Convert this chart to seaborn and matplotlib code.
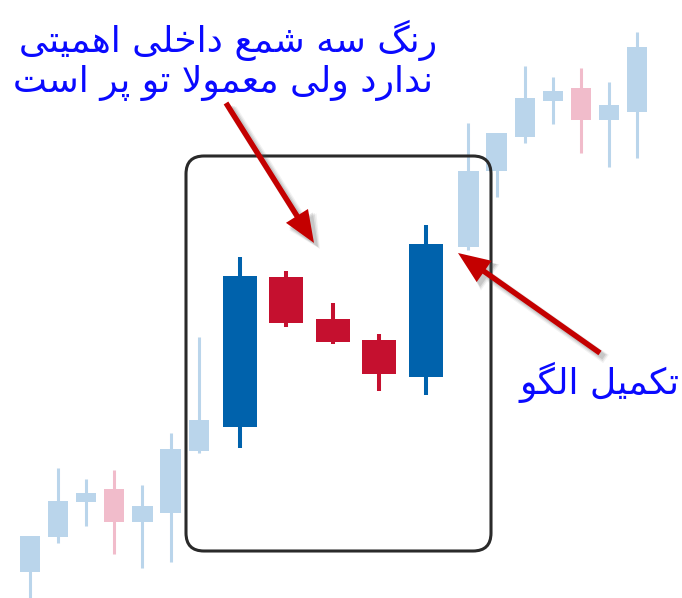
import matplotlib
matplotlib.use('Agg')
import matplotlib.pyplot as plt
from matplotlib.patches import FancyBboxPatch, FancyArrow
import seaborn as sns
import pandas as pd

# faded background candles (before and after the pattern)
bg_t = [0, 1, 2, 3, 4, 5, 6, 15.6, 16.6, 17.6, 18.6, 19.6, 20.6, 21.6]
bg_open = [6.5, 15.25, 24, 27.25, 19, 21.25, 36.75, 87.75, 106.75, 115.25, 124.25, 127.5, 119.5, 121.5]
bg_close = [15.5, 24.25, 26.25, 19, 23, 37.25, 44.5, 106.75, 116.25, 125, 126.75, 119.5, 123.25, 137.75]
bg_high = [15.5, 32.5, 29.75, 32, 28.25, 41.25, 65.25, 118.75, 116.25, 133, 130.25, 132.5, 129, 141.5]
bg_low = [-2, 13.75, 18, 11, 7.5, 9, 36.25, 87, 100.25, 113.75, 118.5, 111.25, 107.75, 110]

# the five candles of the pattern
pt_t = [7.47, 9.12, 10.77, 12.43, 14.08]
pt_open = [42.75, 80.25, 69.75, 64.5, 55.25]
pt_close = [80.5, 68.75, 64, 56, 88.5]
pt_high = [85.25, 81.75, 73.75, 66, 93.25]
pt_low = [37.5, 67.75, 63.5, 51.75, 50.75]

title_lines = ['رنگ سه شمع داخلی اهمیتی', 'ندارد ولی معمولا تو پر است']
end_label = 'تکمیل الگو'

# Arabic / Persian letters -> (isolated, final, initial, medial)
FORMS = {
    'ا': ('\uFE8D', '\uFE8E', None, None),
    'د': ('\uFEA9', '\uFEAA', None, None),
    'ر': ('\uFEAD', '\uFEAE', None, None),
    'و': ('\uFEED', '\uFEEE', None, None),
    'ت': ('\uFE95', '\uFE96', '\uFE97', '\uFE98'),
    'خ': ('\uFEA5', '\uFEA6', '\uFEA7', '\uFEA8'),
    'س': ('\uFEB1', '\uFEB2', '\uFEB3', '\uFEB4'),
    'ش': ('\uFEB5', '\uFEB6', '\uFEB7', '\uFEB8'),
    'ع': ('\uFEC9', '\uFECA', '\uFECB', '\uFECC'),
    'ل': ('\uFEDD', '\uFEDE', '\uFEDF', '\uFEE0'),
    'م': ('\uFEE1', '\uFEE2', '\uFEE3', '\uFEE4'),
    'ن': ('\uFEE5', '\uFEE6', '\uFEE7', '\uFEE8'),
    'ه': ('\uFEE9', '\uFEEA', '\uFEEB', '\uFEEC'),
    'ی': ('\uFBFC', '\uFBFD', '\uFBFE', '\uFBFF'),
    'گ': ('\uFB92', '\uFB93', '\uFB94', '\uFB95'),
    'ک': ('\uFB8E', '\uFB8F', '\uFB90', '\uFB91'),
    'پ': ('\uFB56', '\uFB57', '\uFB58', '\uFB59'),
}


def dual(c):
    return c in FORMS and FORMS[c][2] is not None


def shape(text):
    # join letters by hand (matplotlib has no shaping) and reverse for RTL
    out = []
    i = 0
    while i < len(text):
        c = text[i]
        prev_join = i > 0 and dual(text[i - 1])
        if c == 'ل' and i + 1 < len(text) and text[i + 1] == 'ا':
            out.append('\uFEFC' if prev_join else '\uFEFB')
            i += 2
            continue
        if c not in FORMS:
            out.append(c)
            i += 1
            continue
        next_join = dual(c) and i + 1 < len(text) and text[i + 1] in FORMS
        iso, fin, ini, med = FORMS[c]
        if prev_join and next_join:
            out.append(med)
        elif prev_join:
            out.append(fin)
        elif next_join:
            out.append(ini)
        else:
            out.append(iso)
        i += 1
    return ''.join(out)[::-1]


def candles(ax, df, width, up_col, down_col, wick_lw):
    colors = [up_col if c >= o else down_col for o, c in zip(df['open'], df['close'])]
    ax.vlines(df['t'], df['low'], df['high'], colors=colors, linewidth=wick_lw, zorder=2)
    bottom = df[['open', 'close']].min(axis=1)
    height = (df['close'] - df['open']).abs()
    ax.bar(df['t'], height, width=width, bottom=bottom, color=colors, linewidth=0, zorder=3)


sns.set_theme(style='white')
plt.rcParams['font.family'] = ['DejaVu Sans']

bg = pd.DataFrame({'t': bg_t, 'open': bg_open, 'close': bg_close, 'high': bg_high, 'low': bg_low})
pt = pd.DataFrame({'t': pt_t, 'open': pt_open, 'close': pt_close, 'high': pt_high, 'low': pt_low})

fig = plt.figure(figsize=(6.82, 5.98), dpi=100)
ax = fig.add_axes([0, 0, 1, 1])
candles(ax, bg, 0.72, '#bad5eb', '#f1bccb', 2.2)
candles(ax, pt, 1.22, '#0062ac', '#c5102f', 2.9)
ax.set_xlim(-1.068, 23.2)
ax.set_ylim(0, 149.5)
ax.axis('off')

# overlay in pixel units for the frame, arrows and notes
ov = fig.add_axes([0, 0, 1, 1], facecolor='none')
ov.set_xlim(0, 682)
ov.set_ylim(598, 0)
ov.axis('off')

ov.add_patch(FancyBboxPatch((186, 156), 305, 395, boxstyle='round,pad=0,rounding_size=18',
                            fill=False, edgecolor='#2a2a2a', linewidth=2.2, zorder=1))

for (x0, y0, x1, y1) in [(226, 103, 314, 243), (600, 353, 458, 253)]:
    for k, a in enumerate([0.08, 0.12, 0.16]):
        off = 6 - k
        ov.add_patch(FancyArrow(x0 + off, y0 + off, x1 - x0, y1 - y0, width=6 + 2 * (2 - k),
                                head_width=28 + 2 * (2 - k), head_length=32, length_includes_head=True,
                                color='#555555', alpha=a, linewidth=0, zorder=4))
    ov.add_patch(FancyArrow(x0, y0, x1 - x0, y1 - y0, width=5.5, head_width=26, head_length=32,
                            length_includes_head=True, color='#c40000', linewidth=0, zorder=5))

ov.text(228, 40, shape(title_lines[0]), ha='center', va='center', fontsize=26, color='#0a0aff')
ov.text(223, 83, shape(title_lines[1]), ha='center', va='center', fontsize=26, color='#0a0aff')
ov.text(600, 382, shape(end_label), ha='center', va='center', fontsize=26, color='#0a0aff')

fig.savefig('out.png', dpi=100)
